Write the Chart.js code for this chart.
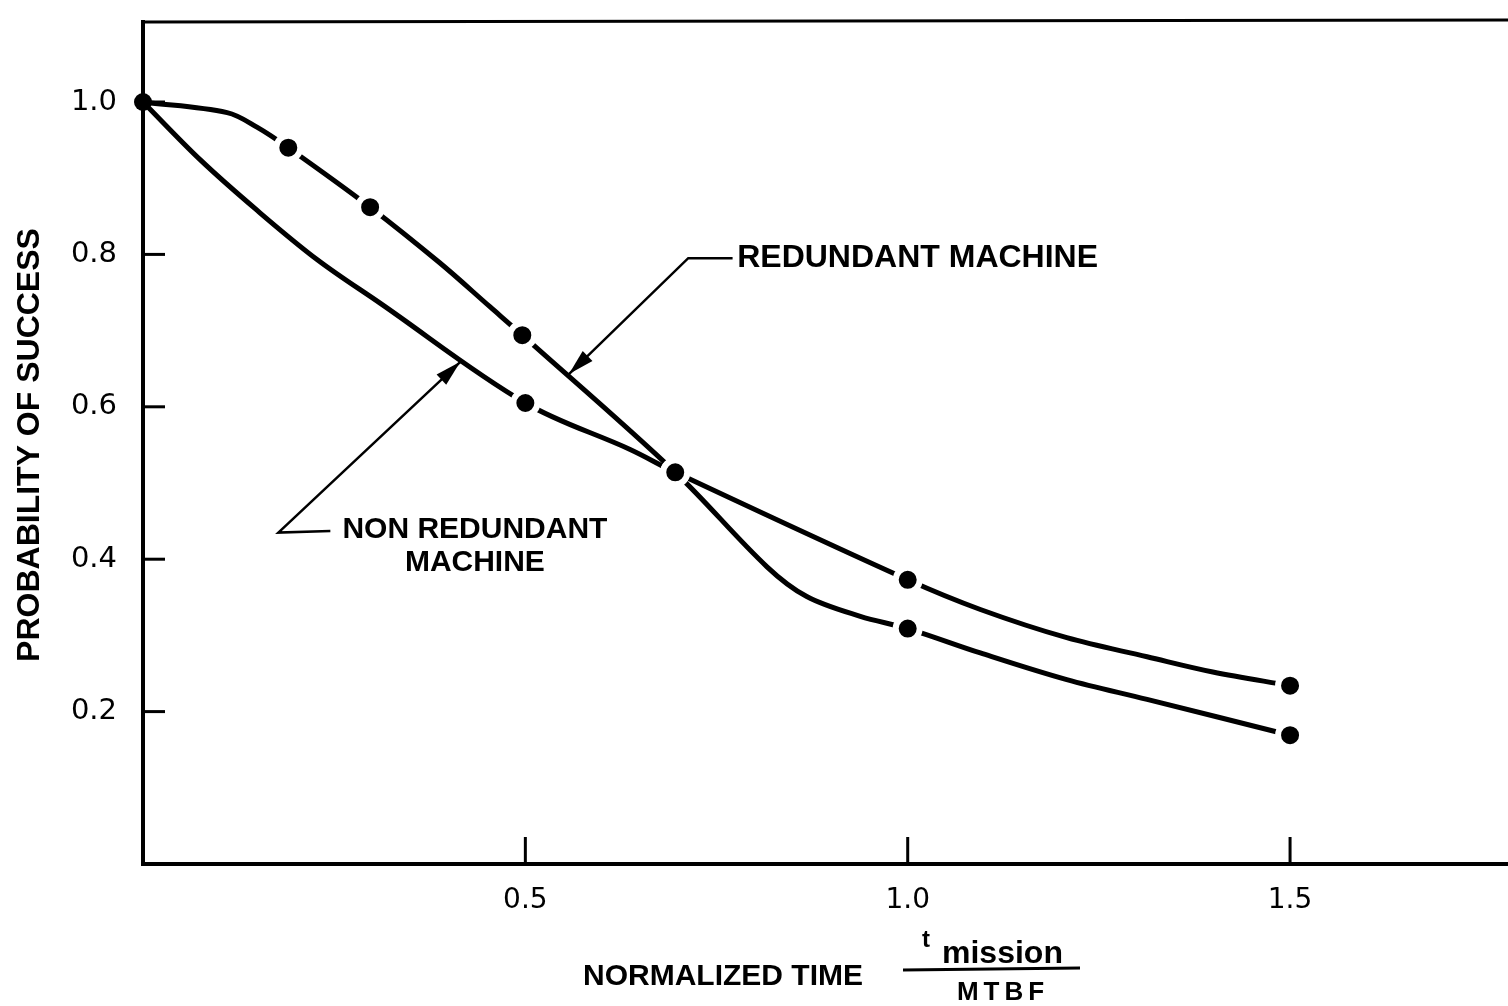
<!DOCTYPE html>
<html>
<head>
<meta charset="utf-8">
<script src="https://cdn.jsdelivr.net/npm/chart.js@4.4.0/dist/chart.umd.min.js"></script>
<style>
  html, body { margin: 0; padding: 0; background: #fff; overflow: hidden; }
  canvas { display: block; }
</style>
</head>
<body>
<canvas id="relChart" width="1508" height="1006"></canvas>
<script>
// normalized time (t mission / MTBF) and probability of success
let redundantCurveX = [0, 0.11, 0.149, 0.19, 0.297, 0.388, 0.454, 0.496, 0.696, 0.816, 0.868, 0.938, 1.0, 1.095, 1.208, 1.313, 1.5];
let redundantCurveY = [1.0, 0.986, 0.967, 0.94, 0.862, 0.789, 0.731, 0.694, 0.514, 0.39, 0.351, 0.325, 0.309, 0.277, 0.242, 0.216, 0.169];
let nonRedundantCurveX = [0, 0.075, 0.149, 0.228, 0.31, 0.5, 0.637, 0.696, 1.0, 1.095, 1.208, 1.313, 1.399, 1.5];
let nonRedundantCurveY = [1.0, 0.924, 0.858, 0.793, 0.736, 0.605, 0.544, 0.514, 0.373, 0.334, 0.297, 0.272, 0.252, 0.234];

// plotted points (dots)
let redundantDotX = [0, 0.19, 0.297, 0.496, 0.696, 1.0, 1.5];
let redundantDotY = [1.0, 0.94, 0.862, 0.694, 0.514, 0.309, 0.169];
let nonRedundantDotX = [0.5, 0.696, 1.0, 1.5];
let nonRedundantDotY = [0.605, 0.514, 0.373, 0.234];

let xTicks = [0.5, 1.0, 1.5];
let yTicks = [0.2, 0.4, 0.6, 0.8, 1.0];

function pts(xs, ys) {
    return xs.map((v, i) => ({ x: v, y: ys[i] }));
}

function arrowLine(ctx, path, head) {
    ctx.beginPath();
    ctx.moveTo(path[0][0], path[0][1]);
    for (let i = 1; i < path.length; i++) ctx.lineTo(path[i][0], path[i][1]);
    ctx.stroke();
    // arrow head at last point
    let [x1, y1] = path[path.length - 2];
    let [x2, y2] = path[path.length - 1];
    let ang = Math.atan2(y2 - y1, x2 - x1);
    ctx.beginPath();
    ctx.moveTo(x2, y2);
    ctx.lineTo(x2 - head * Math.cos(ang) + 7 * Math.sin(ang), y2 - head * Math.sin(ang) - 7 * Math.cos(ang));
    ctx.lineTo(x2 - head * Math.cos(ang) - 7 * Math.sin(ang), y2 - head * Math.sin(ang) + 7 * Math.cos(ang));
    ctx.closePath();
    ctx.fill();
}

let decor = {
    id: "decor",
    afterDraw(chart) {
        let ctx = chart.ctx;
        let a = chart.chartArea;
        let xs = chart.scales.x, ys = chart.scales.y;
        let px = v => xs.getPixelForValue(v);
        let py = v => ys.getPixelForValue(v);
        ctx.save();
        ctx.strokeStyle = "#000";
        ctx.fillStyle = "#000";

        // top frame line
        ctx.lineWidth = 3;
        ctx.beginPath();
        ctx.moveTo(a.left, a.top);
        ctx.lineTo(a.right, a.top - 2);
        ctx.stroke();

        // inside tick marks
        ctx.lineWidth = 3;
        yTicks.forEach(v => {
            ctx.beginPath();
            ctx.moveTo(a.left, py(v));
            ctx.lineTo(a.left + 22, py(v));
            ctx.stroke();
        });
        xTicks.forEach(v => {
            ctx.beginPath();
            ctx.moveTo(px(v), a.bottom);
            ctx.lineTo(px(v), a.bottom - 27);
            ctx.stroke();
        });

        // leaders
        ctx.lineWidth = 2.5;
        arrowLine(ctx, [[px(0.771), py(0.795)], [px(0.713), py(0.795)], [px(0.557), py(0.643)]], 26);
        arrowLine(ctx, [[px(0.245), py(0.437)], [px(0.177), py(0.435)], [px(0.415), py(0.659)]], 26);

        // labels
        ctx.font = "bold 32px 'Liberation Sans'";
        ctx.textBaseline = "middle";
        ctx.textAlign = "left";
        ctx.fillText("REDUNDANT MACHINE", px(0.777), py(0.795));
        ctx.font = "bold 30px 'Liberation Sans'";
        ctx.textAlign = "center";
        ctx.fillText("NON REDUNDANT", px(0.434), py(0.4387));
        ctx.fillText("MACHINE", px(0.434), py(0.3954));

        // y title
        ctx.save();
        ctx.translate(30, 445);
        ctx.rotate(-Math.PI / 2);
        ctx.font = "bold 32px 'Liberation Sans'";
        ctx.textAlign = "center";
        ctx.fillText("PROBABILITY OF SUCCESS", 0, 0);
        ctx.restore();

        // x title with fraction
        ctx.textBaseline = "alphabetic";
        ctx.textAlign = "left";
        ctx.font = "bold 30px 'Liberation Sans'";
        ctx.fillText("NORMALIZED TIME", 583, 985);
        ctx.lineWidth = 3;
        ctx.beginPath();
        ctx.moveTo(903, 970);
        ctx.lineTo(1080, 968);
        ctx.stroke();
        ctx.font = "bold 24px 'Liberation Sans'";
        ctx.fillText("t", 922, 947);
        ctx.font = "bold 32px 'Liberation Sans'";
        ctx.fillText("mission", 942, 963);
        ctx.font = "bold 26px 'Liberation Sans'";
        ctx.textAlign = "center";
        if ("letterSpacing" in ctx) ctx.letterSpacing = "5px";
        ctx.fillText("MTBF", 1003, 1000);
        ctx.restore();
    }
};

let ctx = document.getElementById("relChart").getContext("2d");

let dotStyle = {
    showLine: false,
    pointBackgroundColor: "#000",
    pointBorderColor: "#fff",
    pointRadius: c => (c.raw && c.raw.x === 0 ? 9 : 12),
    pointBorderWidth: c => (c.raw && c.raw.x === 0 ? 0 : 6),
    order: 0,
    clip: false
};
let lineStyle = {
    showLine: true,
    borderColor: "#000",
    borderWidth: 5,
    pointRadius: 0,
    tension: 0.35,
    order: 2,
    clip: false
};

let chart = new Chart(ctx, {
    type: "scatter",
    data: {
        datasets: [
            Object.assign({ label: "Redundant machine (points)", data: pts(redundantDotX, redundantDotY) }, dotStyle),
            Object.assign({ label: "Nonredundant machine (points)", data: pts(nonRedundantDotX, nonRedundantDotY) }, dotStyle),
            Object.assign({ label: "Redundant machine", data: pts(redundantCurveX, redundantCurveY) }, lineStyle),
            Object.assign({ label: "Nonredundant machine", data: pts(nonRedundantCurveX, nonRedundantCurveY) }, lineStyle)
        ]
    },
    options: {
        responsive: false,
        animation: false,
        devicePixelRatio: 1,
        events: [],
        layout: { autoPadding: false, padding: { top: 22, right: 0, left: 0, bottom: 0 } },
        plugins: {
            legend: { display: false },
            tooltip: { enabled: false }
        },
        scales: {
            x: {
                type: "linear",
                min: 0,
                max: 1.785,
                afterBuildTicks: s => { s.ticks = xTicks.map(v => ({ value: v })); },
                afterFit: s => { s.height = 142; s.paddingLeft = 0; s.paddingRight = 0; },
                grid: { display: true, drawOnChartArea: false, drawTicks: false },
                border: { display: true, color: "#000", width: 4 },
                ticks: {
                    color: "#000",
                    padding: 20,
                    maxRotation: 0,
                    font: { family: "'DejaVu Sans'", size: 28 },
                    callback: v => v.toFixed(1)
                }
            },
            y: {
                type: "linear",
                min: 0,
                max: 1.105,
                afterBuildTicks: s => { s.ticks = yTicks.map(v => ({ value: v })); },
                afterFit: s => { s.width = 143; s.paddingTop = 0; s.paddingBottom = 0; },
                grid: { display: true, drawOnChartArea: false, drawTicks: false },
                border: { display: true, color: "#000", width: 4 },
                ticks: {
                    color: "#000",
                    padding: 26,
                    font: { family: "'DejaVu Sans'", size: 29 },
                    callback: v => v.toFixed(1)
                }
            }
        }
    },
    plugins: [decor]
});
</script>
</body>
</html>
